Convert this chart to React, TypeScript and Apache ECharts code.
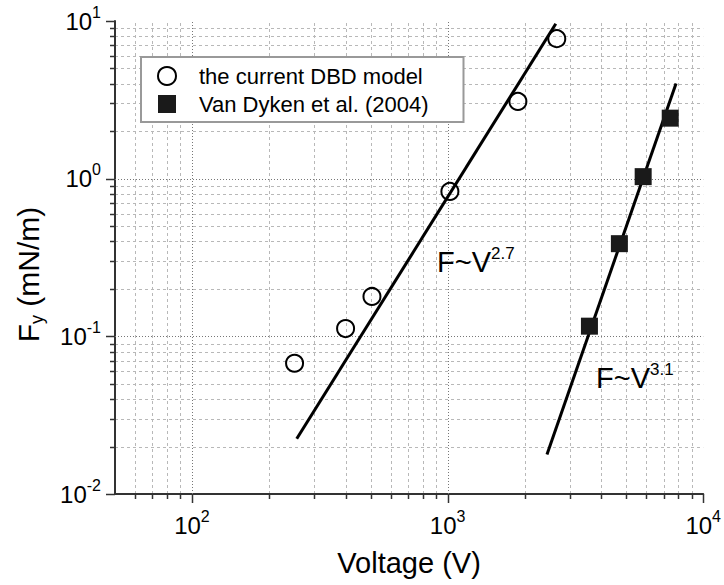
import React, { useEffect, useRef } from 'react';
import * as echarts from 'echarts';

// ---- data ----
const modelName = 'the current DBD model';
const modelVoltage = [252, 399, 506, 1021, 1884, 2674];
const modelForce = [0.0675, 0.112, 0.179, 0.83, 3.09, 7.73];

const vanDykenName = 'Van Dyken et al. (2004)';
const vanDykenVoltage = [3589, 4700, 5823, 7430];
const vanDykenForce = [0.116, 0.387, 1.03, 2.42];

const fit27Voltage = [257, 2650];
const fit27Force = [0.0224, 9.6];
const fit31Voltage = [2448, 7830];
const fit31Force = [0.0178, 4.02];

const xMin = 50;
const xMax = 10000;
const yMin = 0.01;
const yMax = 10;

const xMajorTicks = [100, 1000, 10000];
const xMinorTicks = [60, 70, 80, 90, 200, 300, 400, 500, 600, 700, 800, 900, 2000, 3000, 4000, 5000, 6000, 7000, 8000, 9000];
const xMajorGrid = [100, 1000];
const yMajorTicks = [0.01, 0.1, 1, 10];
const yMinorTicks = [0.02, 0.03, 0.04, 0.05, 0.06, 0.07, 0.08, 0.09, 0.2, 0.3, 0.4, 0.5, 0.6, 0.7, 0.8, 0.9, 2, 3, 4, 5, 6, 7, 8, 9];
const yMajorGrid = [0.1, 1];

const FONT = '"Liberation Sans", Arial, Helvetica, sans-serif';

const zip = (a: number[], b: number[]) => a.map((v, i) => [v, b[i]]);

const powLabel = (v: number) => {
  const l = Math.log10(v);
  const e = Math.round(l);
  if (Math.abs(l - e) > 1e-6) return '';
  return `{b|10}{s|${e}}`;
};

const labelRich = {
  b: { fontSize: 24, lineHeight: 34, fontFamily: FONT, color: '#000' },
  s: { fontSize: 16, lineHeight: 16, fontFamily: FONT, color: '#000', verticalAlign: 'top' },
};

const annRich = {
  m: { fontSize: 29, lineHeight: 34, fontFamily: FONT, fill: '#000', color: '#000' },
  s: { fontSize: 17, lineHeight: 11, fontFamily: FONT, fill: '#000', color: '#000', verticalAlign: 'top' },
};

function vLines(name: string, values: number[], stroke: string, dash: number[] | null, z: number) {
  return {
    type: 'custom',
    name,
    silent: true,
    z,
    clip: false,
    data: values.map((v) => [v, yMin]),
    renderItem: (_p: any, api: any) => {
      const v = api.value(0);
      const a = api.coord([v, yMin]);
      const b = api.coord([v, yMax]);
      const x = Math.round(a[0]) + 0.5;
      return {
        type: 'line',
        shape: { x1: x, y1: a[1], x2: x, y2: b[1] },
        style: { stroke, lineWidth: 1, lineDash: dash || undefined },
      };
    },
  };
}

function hLines(name: string, values: number[], stroke: string, dash: number[] | null, z: number) {
  return {
    type: 'custom',
    name,
    silent: true,
    z,
    clip: false,
    data: values.map((v) => [xMin, v]),
    renderItem: (_p: any, api: any) => {
      const v = api.value(1);
      const a = api.coord([xMin, v]);
      const b = api.coord([xMax, v]);
      const y = Math.round(a[1]) + 0.5;
      return {
        type: 'line',
        shape: { x1: a[0], y1: y, x2: b[0], y2: y },
        style: { stroke, lineWidth: 1, lineDash: dash || undefined },
      };
    },
  };
}

function xTicks(name: string, values: number[], len: number) {
  return {
    type: 'custom',
    name,
    silent: true,
    z: 5,
    clip: false,
    data: values.map((v) => [v, yMin]),
    renderItem: (_p: any, api: any) => {
      const a = api.coord([api.value(0), yMin]);
      const x = Math.round(a[0]) + 0.5;
      return {
        type: 'line',
        shape: { x1: x, y1: a[1], x2: x, y2: a[1] + len },
        style: { stroke: '#333', lineWidth: 1.5 },
      };
    },
  };
}

function yTicks(name: string, values: number[], len: number) {
  return {
    type: 'custom',
    name,
    silent: true,
    z: 5,
    clip: false,
    data: values.map((v) => [xMin, v]),
    renderItem: (_p: any, api: any) => {
      const a = api.coord([xMin, api.value(1)]);
      const y = Math.round(a[1]) + 0.5;
      return {
        type: 'line',
        shape: { x1: a[0], y1: y, x2: a[0] - len, y2: y },
        style: { stroke: '#333', lineWidth: 1.5 },
      };
    },
  };
}

export default function App() {
  const ref = useRef<HTMLDivElement>(null);

  useEffect(() => {
    if (!ref.current) return;
    const chart = echarts.init(ref.current, null, { renderer: 'svg' });
    const option: any = {
      animation: false,
      backgroundColor: '#fff',
      textStyle: { fontFamily: FONT },
      grid: { left: 115, right: 18, top: 21, bottom: 89, containLabel: false },
      xAxis: {
        type: 'log',
        logBase: 10,
        min: xMin,
        max: xMax,
        axisLine: { show: true, lineStyle: { color: '#333', width: 2 } },
        axisTick: { show: false },
        splitLine: { show: false },
        minorTick: { show: false },
        axisLabel: {
          formatter: powLabel,
          margin: 14,
          rich: labelRich,
          showMinLabel: true,
          showMaxLabel: true,
          hideOverlap: false,
        },
        name: 'Voltage (V)',
        nameLocation: 'middle',
        nameGap: 52,
        nameTextStyle: { fontSize: 29, lineHeight: 34, fontFamily: FONT, color: '#000' },
      },
      yAxis: {
        type: 'log',
        logBase: 10,
        min: yMin,
        max: yMax,
        axisLine: { show: true, lineStyle: { color: '#333', width: 2 } },
        axisTick: { show: false },
        splitLine: { show: false },
        minorTick: { show: false },
        axisLabel: {
          formatter: powLabel,
          margin: 14,
          rich: labelRich,
          showMinLabel: true,
          showMaxLabel: true,
          hideOverlap: false,
        },
        name: '{f|F}{s|y}{f| (mN/m)}',
        nameLocation: 'middle',
        nameRotate: 90,
        nameGap: 69,
        nameTextStyle: {
          padding: [0, 34, 0, 0],
          rich: {
            f: { fontSize: 30, lineHeight: 36, fontFamily: FONT, color: '#000' },
            s: { fontSize: 18, lineHeight: 18, fontFamily: FONT, color: '#000', verticalAlign: 'bottom' },
          },
        },
      },
      legend: {
        orient: 'vertical',
        left: 141,
        top: 57,
        data: [
          { name: modelName, icon: 'circle' },
          { name: vanDykenName, icon: 'rect' },
        ],
        itemWidth: 18,
        itemHeight: 18,
        itemGap: 6,
        padding: [8, 35, 7, 16],
        borderColor: '#999',
        borderWidth: 2,
        borderRadius: 0,
        backgroundColor: '#fff',
        selectedMode: false,
        z: 10,
        formatter: (n: string) => `{n|${n}}`,
        textStyle: {
          color: '#000',
          fontSize: 22,
          fontFamily: FONT,
          rich: { n: { fontSize: 22, lineHeight: 22, fontFamily: FONT, color: '#000', padding: [0, 0, 0, 18] } },
        },
      },
      graphic: [
        {
          type: 'text',
          x: 437,
          y: 245,
          z: 20,
          style: { text: '{m|F~V}{s|2.7}', verticalAlign: 'top', rich: annRich },
        },
        {
          type: 'text',
          x: 596,
          y: 360.5,
          z: 20,
          style: { text: '{m|F~V}{s|3.1}', verticalAlign: 'top', rich: annRich },
        },
      ],
      series: [
        vLines('xMinorGrid', xMinorTicks, '#b8b8b8', [3, 3], 0),
        hLines('yMinorGrid', yMinorTicks, '#b8b8b8', [3, 3], 0),
        vLines('xMajorGrid', xMajorGrid, '#777', [1, 2], 1),
        hLines('yMajorGrid', yMajorGrid, '#777', [1, 2], 1),
        xTicks('xMinorTicks', xMinorTicks, 5),
        xTicks('xMajorTicks', xMajorTicks, 9),
        yTicks('yMinorTicks', yMinorTicks, 5),
        yTicks('yMajorTicks', yMajorTicks, 9),
        {
          type: 'line',
          name: 'fit27',
          data: zip(fit27Voltage, fit27Force),
          symbol: 'none',
          silent: true,
          z: 4,
          lineStyle: { color: '#000', width: 3 },
        },
        {
          type: 'line',
          name: 'fit31',
          data: zip(fit31Voltage, fit31Force),
          symbol: 'none',
          silent: true,
          z: 3,
          lineStyle: { color: '#000', width: 3 },
        },
        {
          type: 'scatter',
          name: modelName,
          data: zip(modelVoltage, modelForce),
          symbol: 'circle',
          symbolSize: 17,
          z: 3,
          itemStyle: { color: 'rgba(255,255,255,0)', borderColor: '#000', borderWidth: 2, opacity: 1 },
        },
        {
          type: 'scatter',
          name: vanDykenName,
          data: zip(vanDykenVoltage, vanDykenForce),
          symbol: 'rect',
          symbolSize: 17,
          z: 5,
          itemStyle: { color: '#1a1a1a', borderWidth: 0, opacity: 1 },
        },
      ],
    };
    chart.setOption(option);
    return () => chart.dispose();
  }, []);

  return (
    <div
      ref={ref}
      style={{ position: 'fixed', left: 0, top: 0, width: 724, height: 585, background: '#fff' }}
    />
  );
}
